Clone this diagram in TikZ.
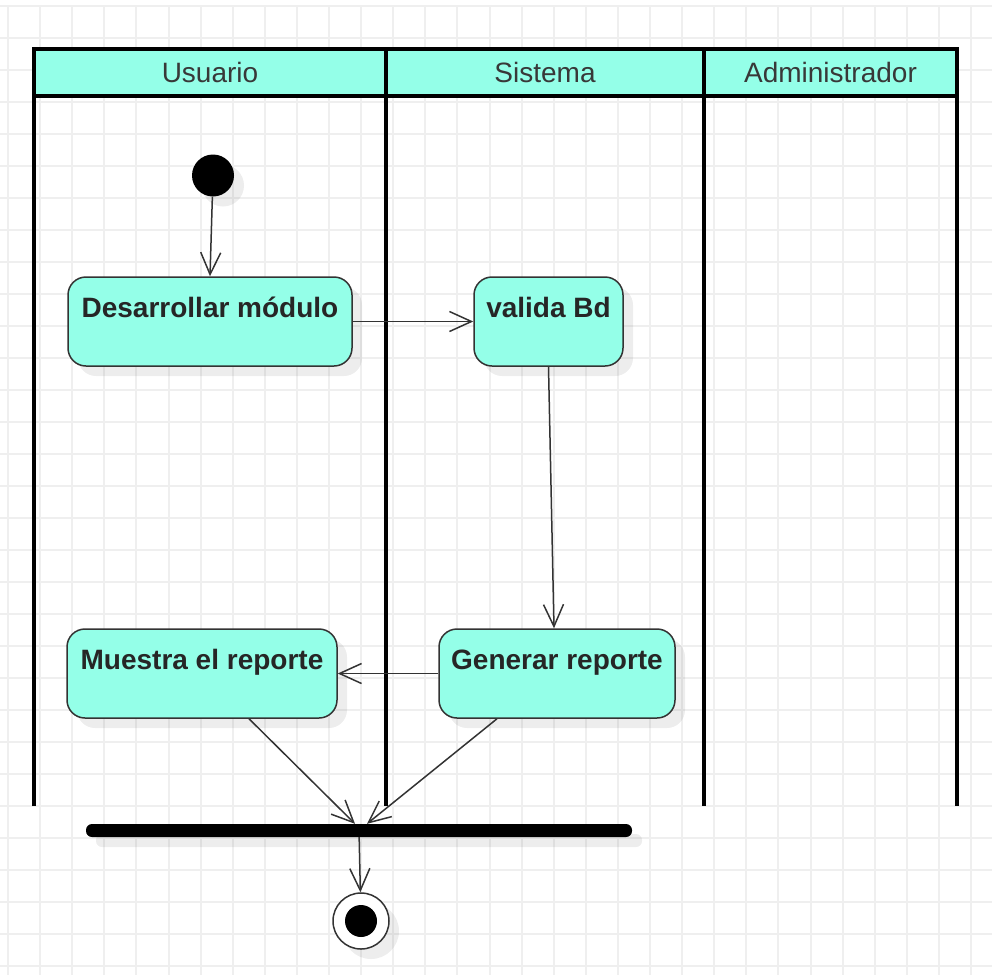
\documentclass[tikz,border=0pt]{standalone}
\usepackage{fontspec}
\setmainfont{Liberation Sans}
\usetikzlibrary{arrows.meta,shadows}
\definecolor{aqua}{HTML}{94FFE8}
\definecolor{gridgray}{HTML}{EFEFEF}
\begin{document}
\begin{tikzpicture}[x=1pt,y=-1pt,
    soft/.style={drop shadow={shadow xshift=10pt,shadow yshift=-10pt,fill=black,opacity=0.07}},
    act/.style={draw=black!80,line width=1.5pt,fill=aqua,rounded corners=18pt,
      font=\fontsize{28}{32}\selectfont\bfseries,text=black!85,
      inner xsep=0pt,inner ysep=0pt,text height=40pt,text depth=49pt,soft},
    head/.style={fill=aqua,font=\fontsize{28}{32}\selectfont,text=black!78,
      minimum height=47pt,inner sep=0pt},
    flow/.style={draw=black!80,line width=1.5pt,-{Straight Barb[length=22pt,width=20pt]}},
    lane/.style={line width=4pt}]
  \useasboundingbox (0,0) rectangle (992,975);
  % grid
  \foreach \k in {0,...,30} {
    \draw[gridgray,line width=2pt] (8+32.1*\k,6) -- (8+32.1*\k,975);
    \draw[gridgray,line width=2pt] (0,6+32*\k) -- (992,6+32*\k);
  }
  % lanes
  \node[head,minimum width=352pt] (usr) at (210,72.5) {Usuario};
  \node[head,minimum width=318pt] (sis) at (545,72.5) {Sistema};
  \node[head,minimum width=253pt] (adm) at (830.5,72.5) {Administrador};
  \draw[lane] (34,806) -- (34,49) -- (957,49) -- (957,806);
  \draw[lane] (386,49) -- (386,806);
  \draw[lane] (704,49) -- (704,806);
  \draw[lane] (34,96) -- (957,96);
  % activities
  \node[circle,fill=black,minimum size=42pt,inner sep=0pt,soft] (ini) at (213,175.5) {};
  \node[act,minimum width=284pt] (des) at (210,321.5) {Desarrollar módulo};
  \node[act,minimum width=149pt] (val) at (548.5,321.5) {valida Bd};
  \node[act,minimum width=236pt] (gen) at (557,673.5) {Generar reporte};
  \node[act,minimum width=270pt] (mues) at (202,673.5) {Muestra el reporte};
  \node[fill=black,minimum width=546pt,minimum height=13pt,inner sep=0pt,
    rounded corners=6pt,soft] (join) at (359,830.5) {};
  \node[circle,draw=black!80,line width=1.5pt,fill=white,minimum size=56pt,
    inner sep=0pt,soft] (fin) at (361,921) {};
  \node[circle,fill=black,minimum size=32pt,inner sep=0pt] (fincore) at (fin) {};
  % flows
  \draw[flow] (ini) -- (des.north);
  \draw[flow] (des) -- (val);
  \draw[flow] (val.south) -- ([xshift=-3pt]gen.north);
  \draw[flow] (gen) -- (mues);
  \draw[flow] ([xshift=47pt]mues.south) -- ([xshift=-4pt]join.north);
  \draw[flow] ([xshift=-60pt]gen.south) -- ([xshift=8pt]join.north);
  \draw[flow] (join) -- (fin);
\end{tikzpicture}
\end{document}
